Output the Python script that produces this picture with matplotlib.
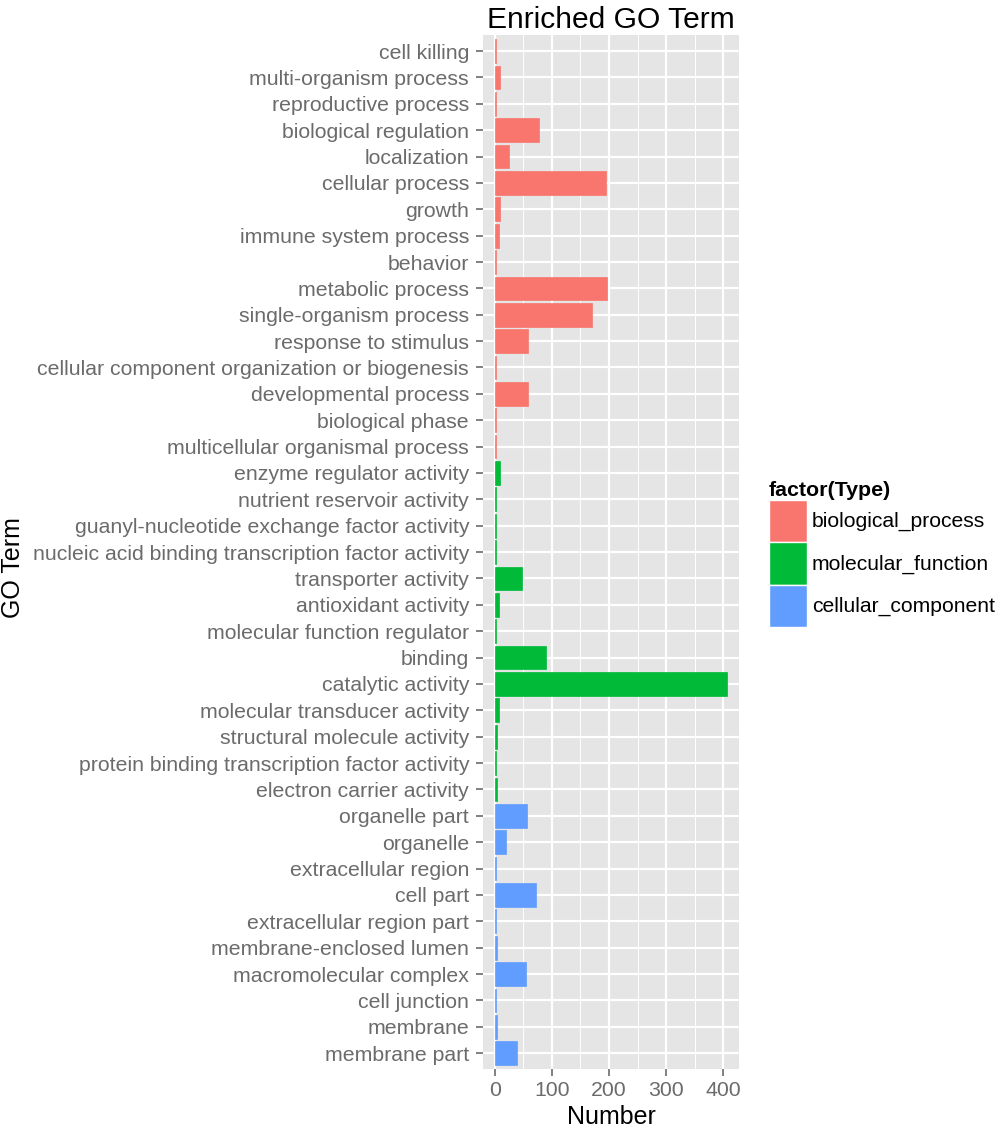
import matplotlib
matplotlib.use("Agg")
import matplotlib.pyplot as plt
from matplotlib.patches import Patch
import numpy as np

terms = [
    "cell killing", "multi-organism process", "reproductive process",
    "biological regulation", "localization", "cellular process", "growth",
    "immune system process", "behavior", "metabolic process",
    "single-organism process", "response to stimulus",
    "cellular component organization or biogenesis", "developmental process",
    "biological phase", "multicellular organismal process",
    "enzyme regulator activity", "nutrient reservoir activity",
    "guanyl-nucleotide exchange factor activity",
    "nucleic acid binding transcription factor activity",
    "transporter activity", "antioxidant activity",
    "molecular function regulator", "binding", "catalytic activity",
    "molecular transducer activity", "structural molecule activity",
    "protein binding transcription factor activity", "electron carrier activity",
    "organelle part", "organelle", "extracellular region", "cell part",
    "extracellular region part", "membrane-enclosed lumen",
    "macromolecular complex", "cell junction", "membrane", "membrane part",
]
numbers = [2, 10, 3, 78, 25, 194, 10, 7, 2, 197, 170, 58, 2, 58, 2, 2,
           10, 2, 2, 2, 48, 7, 2, 90, 407, 7, 5, 2, 5,
           56, 19, 3, 72, 2, 4, 55, 2, 4, 39]
types = (["biological_process"] * 16 + ["molecular_function"] * 13 +
         ["cellular_component"] * 10)
type_order = ["biological_process", "molecular_function", "cellular_component"]
type_colors = {"biological_process": "#F8766D",
               "molecular_function": "#00BA38",
               "cellular_component": "#619CFF"}

plt.rcParams['font.family'] = ['Liberation Sans', 'DejaVu Sans']

fig = plt.figure(figsize=(10, 11.36), dpi=100)
ax = fig.add_axes([0.483, 0.059, 0.256, 0.910])
ax.set_facecolor("#E5E5E5")

n = len(terms)
ypos = np.arange(n)[::-1]
colors = [type_colors[t] for t in types]
ax.barh(ypos, numbers, height=0.9, color=colors, edgecolor=colors,
        linewidth=0.5, zorder=3)

ax.set_ylim(-0.6, n - 0.4)
xmax = max(numbers)
ax.set_xlim(-0.05 * xmax, 1.05 * xmax)
ax.set_yticks(ypos)
ax.set_yticklabels(terms)
ax.set_xticks([0, 100, 200, 300, 400])
ax.set_xticks([50, 150, 250, 350], minor=True)

ax.grid(True, which="major", axis="both", color="white", linewidth=1.6, zorder=1)
ax.grid(True, which="minor", axis="x", color="white", linewidth=0.7, zorder=1)
ax.set_axisbelow(True)
for s in ax.spines.values():
    s.set_visible(False)

ax.tick_params(axis="both", which="major", labelsize=15.3, labelcolor="#6B6B6B",
               color="#6B6B6B", length=5, width=1.2, pad=5)
ax.tick_params(axis="x", which="major", pad=4)
ax.tick_params(axis="x", which="minor", length=0)

ax.set_xlabel("Number", fontsize=18, color="black", labelpad=3)
ax.set_ylabel("GO Term", fontsize=18, color="black")
ax.yaxis.set_label_coords(25 / 1000, 0.5, transform=fig.transFigure)
ax.set_title("Enriched GO Term", fontsize=21.6, color="black", pad=5)

handles = [Patch(facecolor=type_colors[t], edgecolor="white", linewidth=1.0,
                 label=t)
           for t in type_order]
leg = fig.legend(handles=handles, title="factor(Type)", loc="upper left",
                 bbox_to_anchor=(0.754, 0.590), frameon=False, fontsize=15.2,
                 title_fontproperties={"weight": "bold", "size": 15.4},
                 handlelength=1.8, handleheight=2.72, labelspacing=0.0,
                 handletextpad=0.25, borderpad=0.2, alignment="left")

fig.savefig("out.png", dpi=100)
